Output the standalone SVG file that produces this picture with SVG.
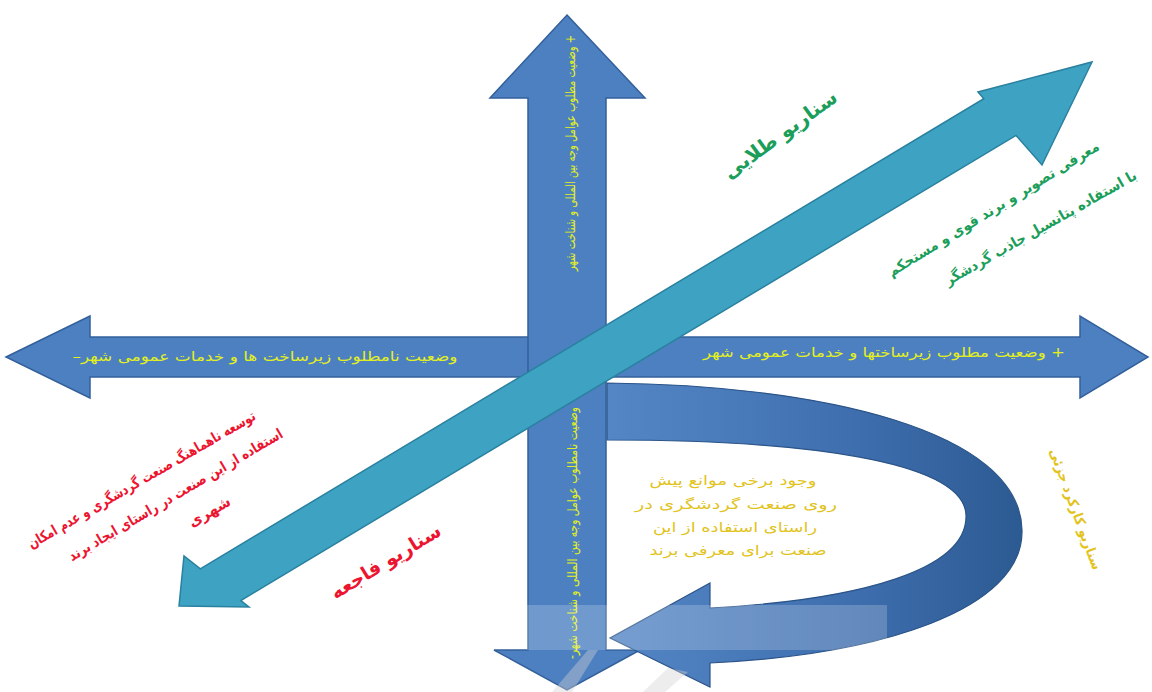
<svg xmlns="http://www.w3.org/2000/svg" width="1152" height="692" viewBox="0 0 1152 692">
<defs>
<style>
.blue{fill:#4d80c1;stroke:#33609a;stroke-width:1.5;stroke-linejoin:miter}
.teal{fill:#3ea3c3;stroke:#2a809f;stroke-width:1.5}
.ytxt{font-family:"DejaVu Sans",sans-serif;font-size:13.5px;fill:#e4f01c}
.green{font-family:"DejaVu Sans",sans-serif;fill:#1a9e5a}
.red{font-family:"DejaVu Sans",sans-serif;fill:#ec1530}
.gold{font-family:"DejaVu Sans",sans-serif;font-size:13.5px;fill:#e2c31c}
</style>
<linearGradient id="curveGrad" x1="0" y1="0" x2="1" y2="0">
<stop offset="0" stop-color="#5486c6"/>
<stop offset="0.6" stop-color="#3e6eae"/>
<stop offset="1" stop-color="#2c5a92"/>
</linearGradient>
</defs>
<rect width="1152" height="692" fill="#ffffff"/>

<g id="horizontal-arrow">
<path class="blue" d="M6,357 L90,316 L90,337 L1080,337 L1080,316 L1148,357 L1080,398 L1080,377 L90,377 L90,398 Z"/>
<text class="ytxt" x="265" y="361" text-anchor="middle" direction="rtl" textLength="385" lengthAdjust="spacingAndGlyphs">وضعیت نامطلوب زیرساخت ها و خدمات عمومی شهر–</text>
<text class="ytxt" x="884" y="357" text-anchor="middle" direction="rtl" textLength="362" lengthAdjust="spacingAndGlyphs">+ وضعیت مطلوب زیرساختها و خدمات عمومی شهر</text>
</g>

<g id="vertical-arrow">
<path class="blue" d="M567,15 L645,98 L606,98 L606,650 L640,650 L567,690 L494,650 L528,650 L528,98 L490,98 Z"/>
<text class="ytxt" transform="translate(570,153) rotate(-90)" x="0" y="5" text-anchor="middle" direction="rtl" textLength="236" lengthAdjust="spacingAndGlyphs">+ وضعیت مطلوب عوامل وجه بین المللی و شناخت شهر</text>
<text class="ytxt" transform="translate(572,533) rotate(-90)" x="0" y="5" text-anchor="middle" direction="rtl" textLength="252" lengthAdjust="spacingAndGlyphs">وضعیت نامطلوب عوامل وجه بین المللی و شناخت شهر-</text>
</g>

<g id="diagonal-arrow">
<path class="teal" d="M1092,62 L1042,165 L1016,135.4 L240.8,600.5 L249,607 L179,606 L184,556 L200.3,568.8 L983.8,98.7 L978,92 Z"/>
</g>

<g id="curved-arrow">
<path fill="url(#curveGrad)" stroke="#2b5488" stroke-width="1.2" d="M607,383 C820,385 1020,430 1022,530 C1024,610 880,655 710,663 L710,687 L610,638 L710,583 L710,608 C860,600 968,570 966,515 C964,460 800,440 607,440 Z"/>
</g>

<g id="golden-scenario">
<text class="green" font-size="20" font-weight="bold" transform="translate(784,140) rotate(-36)" text-anchor="middle" direction="rtl">سناریو طلایی</text>
<text class="green" font-size="14.5" font-weight="bold" transform="translate(996,213) rotate(-31.5)" text-anchor="middle" direction="rtl" textLength="245" lengthAdjust="spacingAndGlyphs">معرفی تصویر و برند قوی و مستحکم</text>
<text class="green" font-size="14.5" font-weight="bold" transform="translate(1043,232) rotate(-29.5)" text-anchor="middle" direction="rtl" textLength="218" lengthAdjust="spacingAndGlyphs">با استفاده پتانسیل جاذب گردشگر</text>
</g>

<g id="disaster-scenario">
<text class="red" font-size="14.5" font-weight="bold" transform="translate(144,484) rotate(-30)" text-anchor="middle" direction="rtl" textLength="260" lengthAdjust="spacingAndGlyphs">توسعه ناهماهنگ صنعت گردشگری و عدم امکان</text>
<text class="red" font-size="14.5" font-weight="bold" transform="translate(178,499) rotate(-30.5)" text-anchor="middle" direction="rtl" textLength="246" lengthAdjust="spacingAndGlyphs">استفاده از این صنعت در راستای ایجاد برند</text>
<text class="red" font-size="14.5" font-weight="bold" transform="translate(212,516) rotate(-30)" text-anchor="middle" direction="rtl">شهری</text>
<text class="red" font-size="19" font-weight="bold" transform="translate(389,567) rotate(-31.5)" text-anchor="middle" direction="rtl">سناریو فاجعه</text>
</g>

<g id="middle-scenario">
<text class="gold" x="733" y="485" text-anchor="middle" direction="rtl" textLength="167" lengthAdjust="spacingAndGlyphs">وجود برخی موانع پیش</text>
<text class="gold" x="736" y="509" text-anchor="middle" direction="rtl" textLength="202" lengthAdjust="spacingAndGlyphs">روی صنعت گردشگری در</text>
<text class="gold" x="735" y="532" text-anchor="middle" direction="rtl" textLength="164" lengthAdjust="spacingAndGlyphs">راستای استفاده از این</text>
<text class="gold" x="738" y="555" text-anchor="middle" direction="rtl" textLength="177" lengthAdjust="spacingAndGlyphs">صنعت برای معرفی برند</text>
<text class="gold" font-size="15" font-weight="bold" transform="translate(1076,509) rotate(70)" x="0" y="5" text-anchor="middle" direction="rtl" textLength="128" lengthAdjust="spacingAndGlyphs">سناریو کارکرد جزئی</text>
</g>

<g id="watermark" opacity="0.4">
<rect x="527" y="605" width="360" height="45" fill="#ffffff" opacity="0.5"/>
<path d="M552,692 L588,650 L598,650 L572,692 Z" fill="#d4d4d4"/>
<path d="M643,692 L668,668 L688,672 L665,692 Z" fill="#d4d4d4"/>
</g>
</svg>
